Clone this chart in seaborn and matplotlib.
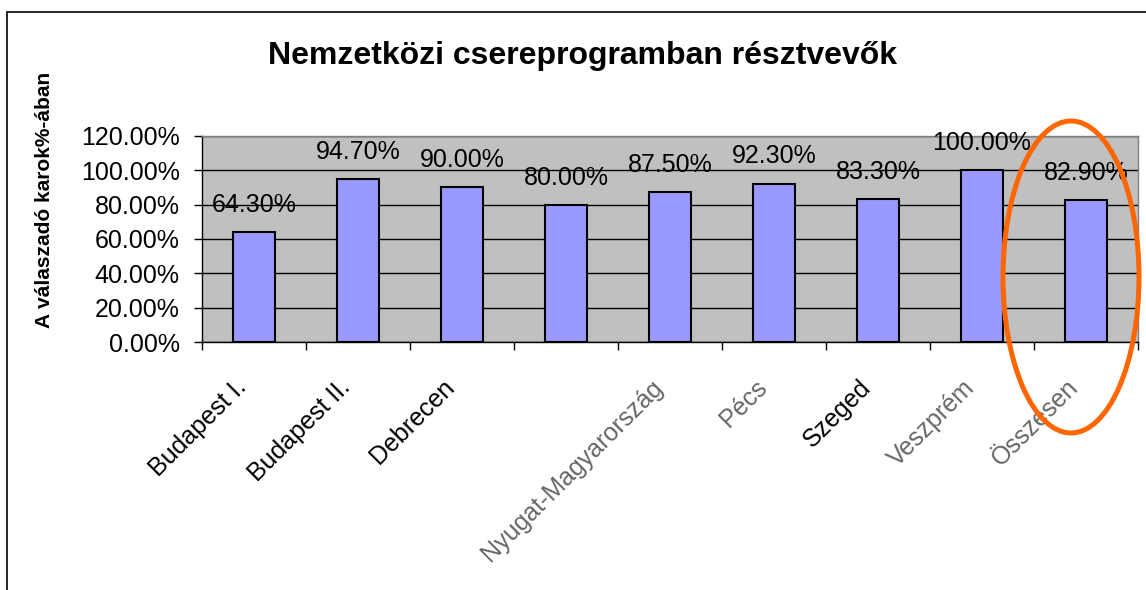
import matplotlib
matplotlib.use("Agg")
import matplotlib.pyplot as plt
import matplotlib.transforms as mtransforms
from matplotlib.patches import Ellipse
from matplotlib.lines import Line2D
from matplotlib.ticker import PercentFormatter, FixedLocator
import seaborn as sns
import pandas as pd

# --- Data ---
categories = ["Budapest I.", "Budapest II.", "Debrecen", "", "Nyugat-Magyarország",
              "Pécs", "Szeged", "Veszprém", "Összesen"]
values = [0.643, 0.947, 0.900, 0.800, 0.875, 0.923, 0.833, 1.000, 0.829]

title = "Nemzetközi csereprogramban résztvevők"
ylabel = "A válaszadó karok%-ában"

df = pd.DataFrame({"kar": categories, "arany": values})

# --- Style ---
sns.set_style("white")
plt.rcParams["font.family"] = ["Liberation Sans", "DejaVu Sans"]
plt.rcParams["text.color"] = "black"
plt.rcParams["xtick.color"] = "black"
plt.rcParams["ytick.color"] = "black"
plt.rcParams["axes.labelcolor"] = "black"

fig = plt.figure(figsize=(11.46, 5.90), dpi=100)
ax = fig.add_axes([202 / 1146, 1 - 342 / 590, (1138 - 202) / 1146, (342 - 136) / 590])
ax.set_facecolor("#C0C0C0")

sns.barplot(data=df, x="kar", y="arany", order=categories, width=0.4,
            color="#9999FF", edgecolor="black", linewidth=1.5, saturation=1,
            ax=ax, zorder=3)

# y axis
ax.set_ylim(0, 1.2)
ax.set_yticks([0, 0.2, 0.4, 0.6, 0.8, 1.0, 1.2])
ax.yaxis.set_major_formatter(PercentFormatter(1.0, decimals=2))
ax.yaxis.grid(True, color="black", linewidth=1)
ax.set_axisbelow(True)
ax.tick_params(axis="y", direction="out", length=6, width=1, color="black",
               labelsize=18, pad=10, left=True, labelcolor="black")
ax.set_xlabel("")
ax.set_ylabel("")

# x axis: ticks between categories, labels at centres
ax.set_xlim(-0.5, len(categories) - 0.5)
ax.xaxis.set_minor_locator(FixedLocator([i - 0.5 for i in range(len(categories) + 1)]))
ax.tick_params(axis="x", which="minor", direction="out", length=6, width=1,
               color="black", bottom=True)
ax.tick_params(axis="x", which="major", length=0, labelsize=18, pad=30,
               labelcolor="black")
ax.set_xticks(range(len(categories)))
ax.set_xticklabels(categories, rotation=45, ha="right", va="center",
                   rotation_mode="anchor")
faded = {"Nyugat-Magyarország", "Pécs", "Veszprém", "Összesen"}
shift = mtransforms.ScaledTranslation(-8 / 72, 0, fig.dpi_scale_trans)
for lbl in ax.get_xticklabels():
    lbl.set_transform(lbl.get_transform() + shift)
    if lbl.get_text() in faded:
        lbl.set_color("#666666")

# spines
for side in ["left", "bottom"]:
    ax.spines[side].set_color("black")
    ax.spines[side].set_linewidth(1)
for side in ["top", "right"]:
    ax.spines[side].set_visible(True)
    ax.spines[side].set_color("#808080")
    ax.spines[side].set_linewidth(1)

# data labels
for i, v in enumerate(values):
    ax.annotate(f"{v * 100:.2f}%", (i, v), xytext=(0, 19.5), textcoords="offset points",
                ha="center", va="center", fontsize=18, color="black", zorder=5)

# titles
fig.text(582 / 1146, 1 - 56 / 590, title, ha="center", va="center",
         fontsize=23, fontweight="bold", color="black")
fig.text(45 / 1146, 1 - 200 / 590, ylabel, ha="center", va="center",
         rotation=90, fontsize=15, fontweight="bold", color="black")

# outer chart frame
fig.add_artist(Line2D([7 / 1146, 7 / 1146], [0, 1 - 12 / 590], transform=fig.transFigure,
                      color="black", linewidth=1.2))
fig.add_artist(Line2D([7 / 1146, 1], [1 - 12 / 590, 1 - 12 / 590], transform=fig.transFigure,
                      color="black", linewidth=1.2))

# orange highlight ellipse
fig.add_artist(Ellipse((1071 / 1146, 1 - 277 / 590), 136 / 1146, 312 / 590,
                       transform=fig.transFigure, fill=False, edgecolor="#FF6600",
                       linewidth=3.6, zorder=10))

fig.savefig("out.png", dpi=100)
